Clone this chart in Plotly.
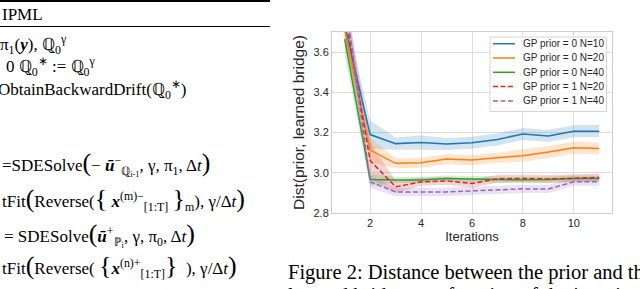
import plotly.graph_objects as go

# ---------------- data ----------------
iterations = [1, 2, 3, 4, 5, 6, 7, 8, 9, 10, 11]
series_names = ["GP prior = 0 N=10", "GP prior = 0 N=20", "GP prior = 0 N=40",
                "GP prior = 1 N=20", "GP prior = 1 N=40"]
prior0_n10 = [3.73, 3.190, 3.145, 3.150, 3.143, 3.149, 3.166, 3.193, 3.183, 3.207, 3.207]
prior0_n20 = [3.71, 3.113, 3.047, 3.050, 3.068, 3.063, 3.075, 3.085, 3.103, 3.124, 3.121]
prior0_n40 = [3.665, 2.967, 2.964, 2.964, 2.972, 2.968, 2.966, 2.965, 2.966, 2.972, 2.972]
prior1_n20 = [3.80, 3.060, 2.930, 2.955, 2.959, 2.947, 2.970, 2.972, 2.969, 2.974, 2.977]
prior1_n40 = [3.88, 2.955, 2.905, 2.905, 2.905, 2.910, 2.914, 2.920, 2.919, 2.955, 2.955]
sd_prior0_n10 = [0.08, 0.07, 0.03, 0.035, 0.03, 0.03, 0.03, 0.03, 0.03, 0.03, 0.03]
sd_prior0_n20 = [0.08, 0.06, 0.025, 0.025, 0.025, 0.025, 0.025, 0.03, 0.03, 0.03, 0.03]
sd_prior0_n40 = [0.08, 0.03, 0.015, 0.015, 0.015, 0.015, 0.015, 0.015, 0.015, 0.015, 0.015]
sd_prior1_n20 = [0.10, 0.09, 0.03, 0.02, 0.02, 0.02, 0.02, 0.02, 0.02, 0.02, 0.02]
sd_prior1_n40 = [0.10, 0.03, 0.02, 0.02, 0.02, 0.02, 0.02, 0.02, 0.02, 0.02, 0.02]
x_ticks = [2, 4, 6, 8, 10]
y_ticks = [2.8, 3.0, 3.2, 3.4, 3.6]

means = [prior0_n10, prior0_n20, prior0_n40, prior1_n20, prior1_n40]
sds = [sd_prior0_n10, sd_prior0_n20, sd_prior0_n40, sd_prior1_n20, sd_prior1_n40]
colors = ["#1f77b4", "#ff7f0e", "#2ca02c", "#d62728", "#9467bd"]
fills = ["rgba(31,119,180,0.2)", "rgba(255,127,14,0.2)", "rgba(44,160,44,0.2)",
         "rgba(214,39,40,0.2)", "rgba(148,103,189,0.2)"]
dashes = ["solid", "solid", "solid", "5px,2.5px", "5px,2.5px"]

W, H = 640, 289
L, R, T, B = 332, 612, 32, 213


def px(x):
    return (x - L) / (R - L)


def py(y):
    return (B - y) / (B - T)


fig = go.Figure()
for m, s, c, f in zip(means, sds, colors, fills):
    upper = [a + b for a, b in zip(m, s)]
    lower = [a - b for a, b in zip(m, s)]
    fig.add_trace(go.Scatter(x=iterations + iterations[::-1], y=upper + lower[::-1],
                             fill="toself", fillcolor=f, line=dict(width=0),
                             mode="lines", hoverinfo="skip", showlegend=False))
for m, c, d, n in zip(means, colors, dashes, series_names):
    fig.add_trace(go.Scatter(x=iterations, y=m, mode="lines", name=n,
                             line=dict(color=c, width=1.5, dash=d), showlegend=False))

tick_font = dict(family="Liberation Sans, Arial", size=11, color="#262626")
fig.update_xaxes(range=[0.5, 11.5], tickvals=x_ticks, ticks="", showgrid=True,
                 gridcolor="#dddddd", gridwidth=1, zeroline=False, showline=True,
                 linecolor="#cccccc", mirror=True, tickfont=tick_font, automargin=False,
                 title=dict(text="Iterations", font=dict(family="Liberation Sans, Arial",
                                                         size=13, color="#262626"), standoff=3))
fig.update_yaxes(range=[2.8, 3.7], tickvals=y_ticks, ticktext=[f"{v:.1f}" for v in y_ticks],
                 ticks="", showgrid=True, gridcolor="#dddddd", gridwidth=1, zeroline=False,
                 showline=True, linecolor="#cccccc", mirror=True, tickfont=tick_font,
                 automargin=False,
                 title=dict(text="Dist(prior, learned bridge)",
                            font=dict(family="Liberation Sans, Arial", size=15.5, color="#262626"),
                            standoff=5))

shapes = []
annotations = []

# custom legend box
shapes.append(dict(type="rect", xref="paper", yref="paper", x0=px(490), x1=px(606.5),
                   y0=py(111.5), y1=py(37), line=dict(color="#d5d5d5", width=1),
                   fillcolor="rgba(255,255,255,0.85)", layer="above"))
for i, (n, c, d) in enumerate(zip(series_names, colors, dashes)):
    yy = 43.7 + i * 14.3
    shapes.append(dict(type="line", xref="paper", yref="paper", x0=px(493), x1=px(515),
                       y0=py(yy), y1=py(yy), line=dict(color=c, width=1.5, dash=d), layer="above"))
    annotations.append(dict(text=n, xref="paper", yref="paper", x=px(521), y=py(yy),
                            xanchor="left", yanchor="middle", showarrow=False,
                            font=dict(family="Liberation Sans, Arial", size=10, color="#262626")))

# page rules (algorithm box)
shapes.append(dict(type="line", xref="paper", yref="paper", x0=px(0), x1=px(270),
                   y0=py(1), y1=py(1), line=dict(color="black", width=2)))
shapes.append(dict(type="line", xref="paper", yref="paper", x0=px(0), x1=px(270),
                   y0=py(26.5), y1=py(26.5), line=dict(color="black", width=1.2)))

serif = "Liberation Serif, Times New Roman"
big = '<span style="font-size:26px">{}</span>'
alg_lines = [
    (0, 15, "IPML", 17),
    (-2, 44, "π<sub>1</sub>(<b><i>y</i></b>), ℚ<sub>0</sub><sup>γ</sup>", 17),
    (4, 66, "0 ℚ<sub>0</sub><sup>∗</sup> := ℚ<sub>0</sub><sup>γ</sup>", 17),
    (-4, 89, "ObtainBackwardDrift(ℚ<sub>0</sub><sup>∗</sup>)", 17),
    (0, 163, "=SDESolve" + big.format("(") + "− <b><i>ū</i></b><sup>−</sup><sub>ℚ<sub>i-1</sub></sub>, γ, π<sub>1</sub>, Δ<i>t</i>" + big.format(")"), 17),
    (0, 199, "tFit" + big.format("(") + "Reverse(" + big.format("{") + " <b><i>x</i></b><sup>(m)−</sup><sub>[1:T]</sub> " + big.format("}") + "<sub>m</sub>), γ/Δ<i>t</i>" + big.format(")"), 17),
    (2, 235, "= SDESolve" + big.format("(") + "<b><i>ū</i></b><sup>+</sup><sub>ℙ<sub>i</sub></sub>, γ, π<sub>0</sub>, Δ<i>t</i>" + big.format(")"), 17),
    (0, 266, "tFit" + big.format("(") + "Reverse( " + big.format("{") + "<b><i>x</i></b><sup>(n)+</sup><sub>[1:T]</sub>" + big.format("}") + "  ), γ/Δ<i>t</i>" + big.format(")"), 17),
]
for x0, y0, t, s in alg_lines:
    annotations.append(dict(text=t, xref="paper", yref="paper", x=px(x0), y=py(y0),
                            xanchor="left", yanchor="middle", showarrow=False,
                            font=dict(family=serif, size=s, color="black")))

# caption
annotations.append(dict(text="Figure 2: Distance between the prior and the",
                        xref="paper", yref="paper", x=px(286), y=py(272),
                        xanchor="left", yanchor="middle", showarrow=False,
                        font=dict(family=serif, size=20.5, color="black")))
annotations.append(dict(text="learned bridge as a function of the iterations",
                        xref="paper", yref="paper", x=px(286), y=py(295),
                        xanchor="left", yanchor="middle", showarrow=False,
                        font=dict(family=serif, size=20.5, color="black")))

fig.update_layout(width=W, height=H,
                  margin=dict(l=L, r=W - R, t=T, b=H - B, autoexpand=False),
                  plot_bgcolor="white", paper_bgcolor="white", shapes=shapes,
                  annotations=annotations, showlegend=False)
fig.write_html("out.html", config={"displayModeBar": False},
               post_script="document.body.style.margin='0';document.body.style.padding='0';")
